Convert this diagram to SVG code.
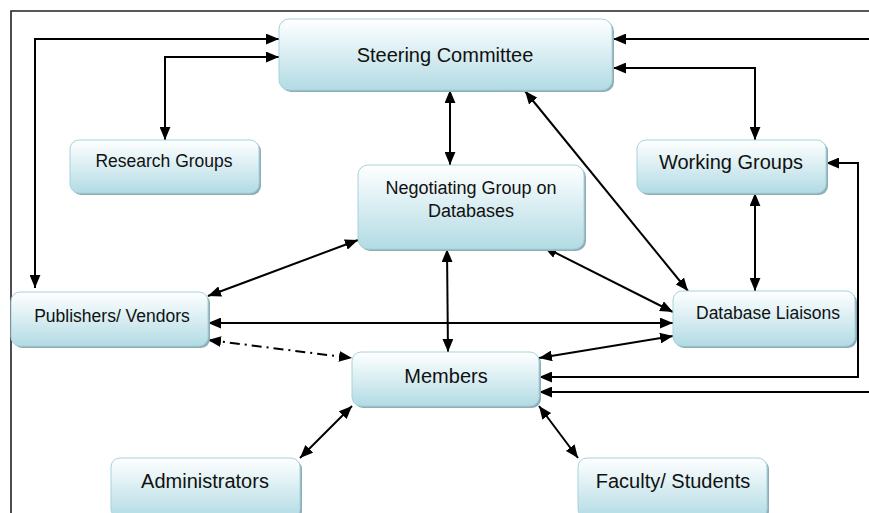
<svg xmlns="http://www.w3.org/2000/svg" width="869" height="513" viewBox="0 0 869 513">
<style>
.box{fill:url(#g);stroke:#a8d2dc;stroke-width:1}
.sh{fill:#8eaeb7}
.t{font-family:"Liberation Sans",Arial,sans-serif;fill:#111;text-anchor:middle}
.c{fill:none;stroke:#000;stroke-width:2;marker-end:url(#a)}
.b{marker-start:url(#a)}
.frame{fill:none;stroke:#222;stroke-width:1.6}
</style>
<defs>
<linearGradient id="g" x1="0" y1="0" x2="0" y2="1">
<stop offset="0" stop-color="#ffffff"/>
<stop offset="0.35" stop-color="#e4f3f6"/>
<stop offset="1" stop-color="#b2dbe4"/>
</linearGradient>
<marker id="a" viewBox="0 0 12 10" markerWidth="13" markerHeight="11" refX="12" refY="5" orient="auto-start-reverse" markerUnits="userSpaceOnUse">
<path d="M0,0 L12,5 L0,10 z" fill="#000"/>
</marker>
</defs>
<g id="frame">
<path class="frame" d="M11,513 V11 H869"/>
</g>
<g id="connectors">
<path class="c b" d="M279,39 H35 V288"/>
<path class="c b" d="M279,57 H165 V140"/>
<path class="c" d="M869,39 H613"/>
<path class="c b" d="M613,68 H755 V140"/>
<path class="c b" d="M450,90 V165"/>
<path class="c b" d="M525,91 L688,291"/>
<path class="c b" d="M358,240 L208,296"/>
<path class="c b" d="M447,249 L448,352"/>
<path class="c b" d="M544,247 L673,312"/>
<path class="c b" d="M208,323 H673"/>
<path class="c b" d="M208,340 L352,358" stroke-dasharray="10,5,2,5"/>
<path class="c b" d="M539,358 L673,336"/>
<path class="c b" d="M755,193 V291"/>
<path class="c b" d="M539,377 H858 V163 H826"/>
<path class="c" d="M869,392 H539"/>
<path class="c b" d="M352,406 L300,458"/>
<path class="c b" d="M539,406 L578,458"/>
</g>
<g id="steering">
<rect class="sh" x="281" y="21" width="333" height="71" rx="10"/>
<rect class="box" x="279" y="19" width="333" height="71" rx="10"/>
<text class="t" x="445" y="62" font-size="20">Steering Committee</text>
</g>
<g id="research">
<rect class="sh" x="72" y="142" width="189" height="53" rx="9"/>
<rect class="box" x="70" y="140" width="189" height="53" rx="9"/>
<text class="t" x="164" y="167" font-size="17.5">Research Groups</text>
</g>
<g id="working">
<rect class="sh" x="639" y="142" width="189" height="53" rx="9"/>
<rect class="box" x="637" y="140" width="189" height="53" rx="9"/>
<text class="t" x="731" y="169" font-size="20">Working Groups</text>
</g>
<g id="negotiating">
<rect class="sh" x="360" y="167" width="226" height="84" rx="10"/>
<rect class="box" x="358" y="165" width="226" height="84" rx="10"/>
<text class="t" x="471" y="194" font-size="18">Negotiating Group on</text>
<text class="t" x="471" y="217" font-size="18">Databases</text>
</g>
<g id="publishers">
<rect class="sh" x="13" y="294" width="197" height="54" rx="9"/>
<rect class="box" x="11" y="292" width="197" height="54" rx="9"/>
<text class="t" x="112" y="322" font-size="17.5">Publishers/ Vendors</text>
</g>
<g id="liaisons">
<rect class="sh" x="675" y="293" width="182" height="55" rx="9"/>
<rect class="box" x="673" y="291" width="182" height="55" rx="9"/>
<text class="t" x="768" y="319" font-size="17.5">Database Liaisons</text>
</g>
<g id="members">
<rect class="sh" x="354" y="354" width="187" height="54" rx="9"/>
<rect class="box" x="352" y="352" width="187" height="54" rx="9"/>
<text class="t" x="446" y="383" font-size="20">Members</text>
</g>
<g id="administrators">
<rect class="sh" x="113" y="460" width="189" height="60" rx="9"/>
<rect class="box" x="111" y="458" width="189" height="60" rx="9"/>
<text class="t" x="205" y="488" font-size="20">Administrators</text>
</g>
<g id="faculty">
<rect class="sh" x="580" y="460" width="189" height="60" rx="9"/>
<rect class="box" x="578" y="458" width="189" height="60" rx="9"/>
<text class="t" x="673" y="488" font-size="20">Faculty/ Students</text>
</g>
</svg>
